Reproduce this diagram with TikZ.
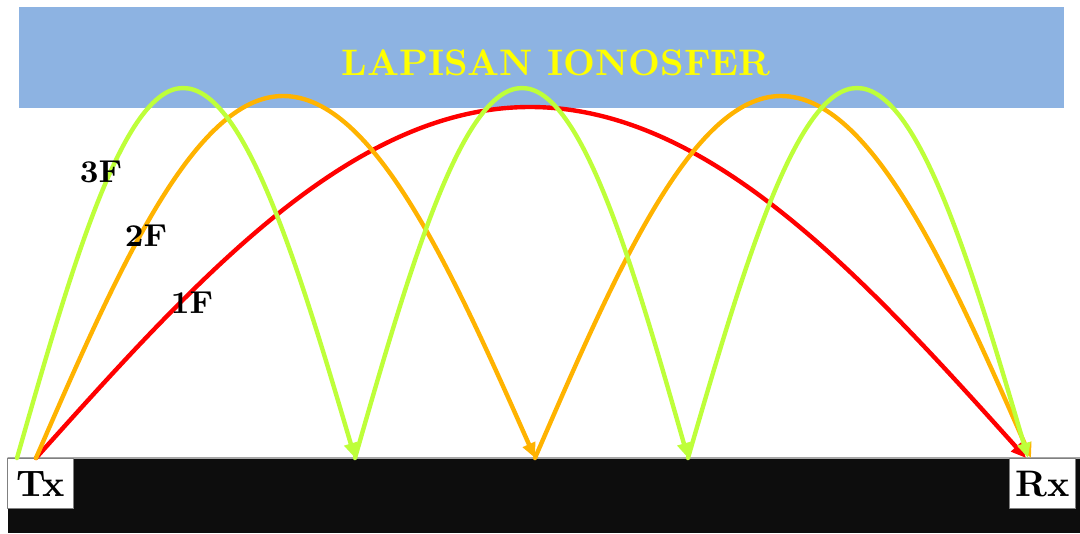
\documentclass[tikz,border=0pt]{standalone}
\usetikzlibrary{arrows.meta}
\definecolor{sky}{HTML}{8DB3E2}
\definecolor{ground}{HTML}{0D0D0D}
\definecolor{rayone}{HTML}{FF0000}
\definecolor{raytwo}{HTML}{FFB300}
\definecolor{raythree}{HTML}{BEFF3A}
\definecolor{titlecol}{HTML}{FFFF00}

\begin{document}
\begin{tikzpicture}[x=0.01cm,y=-0.01cm,line cap=round,line join=round]
  \tikzset{
    station/.style={draw=gray,fill=white,line width=0.4pt,minimum width=0.66cm,minimum height=0.5cm,inner sep=0pt,font=\fontsize{10.5}{12}\selectfont\bfseries},
    hop/.style={line width=1.25pt,-{Triangle[length=1.5mm,width=1.3mm]}},
    tag/.style={font=\fontsize{9}{10}\selectfont\bfseries}
  }
  \useasboundingbox (0,0) rectangle (1080,533);

  % Ionosphere layer and ground.
  \fill[sky] (19,7) rectangle (1064,108);
  \node[text=titlecol,font=\fontsize{10.5}{12}\selectfont\bfseries] (iono) at (556,63) {LAPISAN IONOSFER};
  \fill[ground] (8,458) rectangle (1080,533);
  \draw[gray!70,line width=0.4pt] (8,458) -- (1080,458);
  \node[station,anchor=north west] (tx) at (7,458) {Tx};
  \node[station,anchor=north west] (rx) at (1009,458) {Rx};

  % Ground points and peaks.
  \coordinate (s3) at (17,458);
  \coordinate (s1) at (36,458);
  \coordinate (g1) at (355,458);
  \coordinate (g2) at (535,458);
  \coordinate (g3) at (688,458);
  \coordinate (e1) at (1026,458);
  \coordinate (e2) at (1031,458);
  \coordinate (e3) at (1028,458);
  \coordinate (top1) at (530,107);
  \coordinate (top2a) at (283,96);
  \coordinate (top2b) at (781,96);
  \coordinate (top3a) at (183,88);
  \coordinate (top3b) at (522,88);
  \coordinate (top3c) at (857,88);

  % One hop.
  \draw[hop,rayone] (s1) sin (top1) cos (e1);
  % Two hops.
  \draw[hop,raytwo] (s1) sin (top2a) cos (g2);
  \draw[hop,raytwo] (g2) sin (top2b) cos (e2);
  % Three hops.
  \draw[hop,raythree] (s3) sin (top3a) cos (g1);
  \draw[hop,raythree] (g1) sin (top3b) cos (g3);
  \draw[hop,raythree] (g3) sin (top3c) cos (e3);

  \node[tag] (f3) at (101,172) {3F};
  \node[tag] (f2) at (146,236) {2F};
  \node[tag] (f1) at (192,303) {1F};
\end{tikzpicture}
\end{document}
